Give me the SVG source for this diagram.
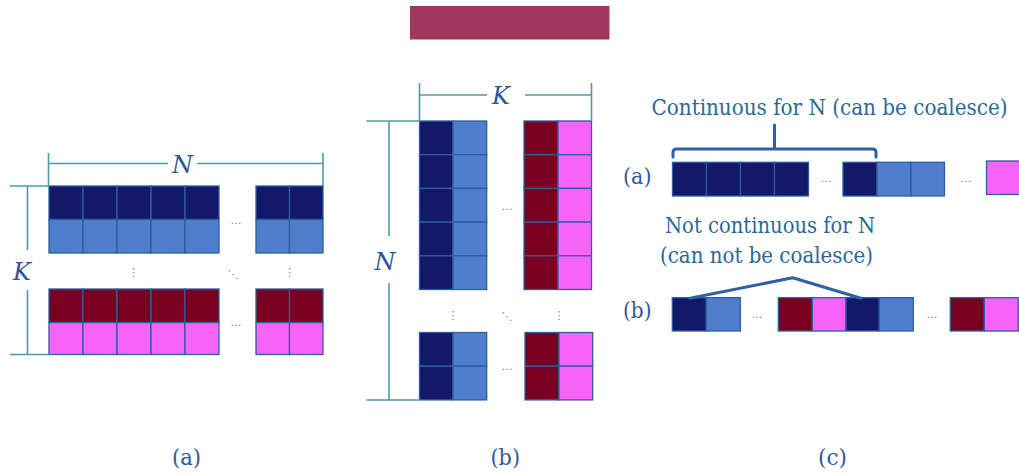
<svg xmlns="http://www.w3.org/2000/svg" width="1019" height="476" viewBox="0 0 1019 476">
<style>
.c{stroke:#2d5e9e;stroke-width:1.3}
.nv{fill:#131869}.lb{fill:#4f7fcc}.dr{fill:#7a0020}.pk{fill:#f763f7}
.dim{stroke:#4f9aa6;stroke-width:1.6;fill:none}
.br{stroke:#2e62a8;stroke-width:3;fill:none;stroke-linecap:round;stroke-linejoin:round}
.var{font-family:"DejaVu Serif",serif;font-style:italic;font-size:24px;fill:#2f5597;text-anchor:middle}
.lab{font-family:"DejaVu Serif",serif;font-size:23px;fill:#2f5a9c}
.note{font-family:"DejaVu Serif",serif;font-size:23px;fill:#2c6898}
.dot{font-family:"DejaVu Sans",sans-serif;font-size:11px;fill:#6b7fa0;text-anchor:middle}
</style>
<rect id="title-bar" x="410" y="6" width="199.5" height="33.5" fill="#a3365f"/>

<g id="matrix-a">
<g class="c">
<rect class="nv" x="49" y="186" width="34" height="33.5"/><rect class="nv" x="83" y="186" width="34" height="33.5"/><rect class="nv" x="117" y="186" width="34" height="33.5"/><rect class="nv" x="151" y="186" width="34" height="33.5"/><rect class="nv" x="185" y="186" width="34" height="33.5"/>
<rect class="lb" x="49" y="219.5" width="34" height="33.5"/><rect class="lb" x="83" y="219.5" width="34" height="33.5"/><rect class="lb" x="117" y="219.5" width="34" height="33.5"/><rect class="lb" x="151" y="219.5" width="34" height="33.5"/><rect class="lb" x="185" y="219.5" width="34" height="33.5"/>
<rect class="nv" x="256" y="186" width="33.5" height="33.5"/><rect class="nv" x="289.5" y="186" width="33.5" height="33.5"/>
<rect class="lb" x="256" y="219.5" width="33.5" height="33.5"/><rect class="lb" x="289.5" y="219.5" width="33.5" height="33.5"/>
<rect class="dr" x="49" y="289" width="34" height="33.5"/><rect class="dr" x="83" y="289" width="34" height="33.5"/><rect class="dr" x="117" y="289" width="34" height="33.5"/><rect class="dr" x="151" y="289" width="34" height="33.5"/><rect class="dr" x="185" y="289" width="34" height="33.5"/>
<rect class="pk" x="49" y="322.5" width="34" height="32"/><rect class="pk" x="83" y="322.5" width="34" height="32"/><rect class="pk" x="117" y="322.5" width="34" height="32"/><rect class="pk" x="151" y="322.5" width="34" height="32"/><rect class="pk" x="185" y="322.5" width="34" height="32"/>
<rect class="dr" x="256" y="289" width="33.5" height="33.5"/><rect class="dr" x="289.5" y="289" width="33.5" height="33.5"/>
<rect class="pk" x="256" y="322.5" width="33.5" height="32"/><rect class="pk" x="289.5" y="322.5" width="33.5" height="32"/>
</g>
<text class="dot" x="236" y="224">…</text>
<text class="dot" x="236" y="326">…</text>
<text class="dot" x="133.5" y="276">⋮</text>
<text class="dot" x="233" y="278">⋱</text>
<text class="dot" x="289.5" y="276">⋮</text>
<path class="dim" d="M48.5,153V186M323,153V186M48.5,163.5H168M197,163.5H323"/>
<text class="var" x="182.5" y="173">N</text>
<path class="dim" d="M10,186H49M10,354.5H49M27.5,186V250M27.5,290V354.5"/>
<text class="var" x="22" y="280">K</text>
</g>

<g id="matrix-b">
<g class="c">
<rect class="nv" x="419.5" y="121" width="33.5" height="33.7"/><rect class="nv" x="419.5" y="154.7" width="33.5" height="33.7"/><rect class="nv" x="419.5" y="188.4" width="33.5" height="33.7"/><rect class="nv" x="419.5" y="222.1" width="33.5" height="33.7"/><rect class="nv" x="419.5" y="255.8" width="33.5" height="33.7"/>
<rect class="lb" x="453" y="121" width="33.7" height="33.7"/><rect class="lb" x="453" y="154.7" width="33.7" height="33.7"/><rect class="lb" x="453" y="188.4" width="33.7" height="33.7"/><rect class="lb" x="453" y="222.1" width="33.7" height="33.7"/><rect class="lb" x="453" y="255.8" width="33.7" height="33.7"/>
<rect class="dr" x="524" y="121" width="34" height="33.7"/><rect class="dr" x="524" y="154.7" width="34" height="33.7"/><rect class="dr" x="524" y="188.4" width="34" height="33.7"/><rect class="dr" x="524" y="222.1" width="34" height="33.7"/><rect class="dr" x="524" y="255.8" width="34" height="33.7"/>
<rect class="pk" x="558" y="121" width="33.5" height="33.7"/><rect class="pk" x="558" y="154.7" width="33.5" height="33.7"/><rect class="pk" x="558" y="188.4" width="33.5" height="33.7"/><rect class="pk" x="558" y="222.1" width="33.5" height="33.7"/><rect class="pk" x="558" y="255.8" width="33.5" height="33.7"/>
<rect class="nv" x="419.5" y="332.5" width="33.5" height="33.7"/><rect class="nv" x="419.5" y="366.2" width="33.5" height="33.7"/>
<rect class="lb" x="453" y="332.5" width="33.7" height="33.7"/><rect class="lb" x="453" y="366.2" width="33.7" height="33.7"/>
<rect class="dr" x="525" y="332.5" width="34" height="33.7"/><rect class="dr" x="525" y="366.2" width="34" height="33.7"/>
<rect class="pk" x="559" y="332.5" width="33.7" height="33.7"/><rect class="pk" x="559" y="366.2" width="33.7" height="33.7"/>
</g>
<text class="dot" x="507" y="210">…</text>
<text class="dot" x="507" y="370">…</text>
<text class="dot" x="453" y="319">⋮</text>
<text class="dot" x="507" y="320">⋱</text>
<text class="dot" x="559" y="319">⋮</text>
<path class="dim" d="M419.5,83V121M591.5,83V121M419.5,95H487M525,95H591.5"/>
<text class="var" x="501" y="104">K</text>
<path class="dim" d="M366.5,121H419.5M366.5,400H419.5M389,121V236M389,283V400"/>
<text class="var" x="385" y="270">N</text>
</g>

<g id="layout-c">
<text class="note" transform="translate(651.5,115) scale(0.85,1)" x="0" y="0" textLength="418.8" lengthAdjust="spacingAndGlyphs">Continuous for N (can be coalesce)</text>
<text class="lab" x="623" y="184" textLength="28.5" lengthAdjust="spacingAndGlyphs">(a)</text>
<g class="c">
<rect class="nv" x="672.5" y="162.3" width="34" height="33.7"/><rect class="nv" x="706.5" y="162.3" width="34" height="33.7"/><rect class="nv" x="740.5" y="162.3" width="34" height="33.7"/><rect class="nv" x="774.5" y="162.3" width="34" height="33.7"/>
<rect class="nv" x="843" y="162.3" width="34" height="33.7"/><rect class="lb" x="877" y="162.3" width="34" height="33.7"/><rect class="lb" x="911" y="162.3" width="33.5" height="33.7"/>
<rect class="pk" x="986.5" y="161" width="34" height="33.5"/>
</g>
<text class="dot" x="826" y="182">…</text>
<text class="dot" x="966" y="182">…</text>

<text class="note" x="665" y="233" textLength="210" lengthAdjust="spacingAndGlyphs">Not continuous for N</text>
<text class="note" x="660" y="263" textLength="213" lengthAdjust="spacingAndGlyphs">(can not be coalesce)</text>
<text class="lab" x="623" y="318" textLength="28.5" lengthAdjust="spacingAndGlyphs">(b)</text>
<g class="c">
<rect class="nv" x="672.3" y="297.7" width="34" height="33.3"/><rect class="lb" x="706.3" y="297.7" width="34" height="33.3"/>
<rect class="dr" x="778.3" y="297.7" width="34" height="33.3"/><rect class="pk" x="812.3" y="297.7" width="33.7" height="33.3"/><rect class="nv" x="846" y="297.7" width="33.3" height="33.3"/><rect class="lb" x="879.3" y="297.7" width="34" height="33.3"/>
<rect class="dr" x="950.3" y="297.7" width="34" height="33.3"/><rect class="pk" x="984.3" y="297.7" width="34" height="33.3"/>
</g>
<text class="dot" x="757" y="318">…</text>
<text class="dot" x="932" y="318">…</text>
</g>

<g id="connectors">
<path class="br" d="M673,157V152.5Q673,149 676.5,149H872.5Q876,149 876,152.5V157M774.5,125V149"/>
<path class="br" d="M690,298.3L792.7,277.7L861,298.3"/>
</g>

<g id="captions">
<text class="lab" x="172" y="465" textLength="29" lengthAdjust="spacingAndGlyphs">(a)</text>
<text class="lab" x="490.5" y="465" textLength="29.5" lengthAdjust="spacingAndGlyphs">(b)</text>
<text class="lab" x="818" y="465" textLength="29" lengthAdjust="spacingAndGlyphs">(c)</text>
</g>
</svg>
